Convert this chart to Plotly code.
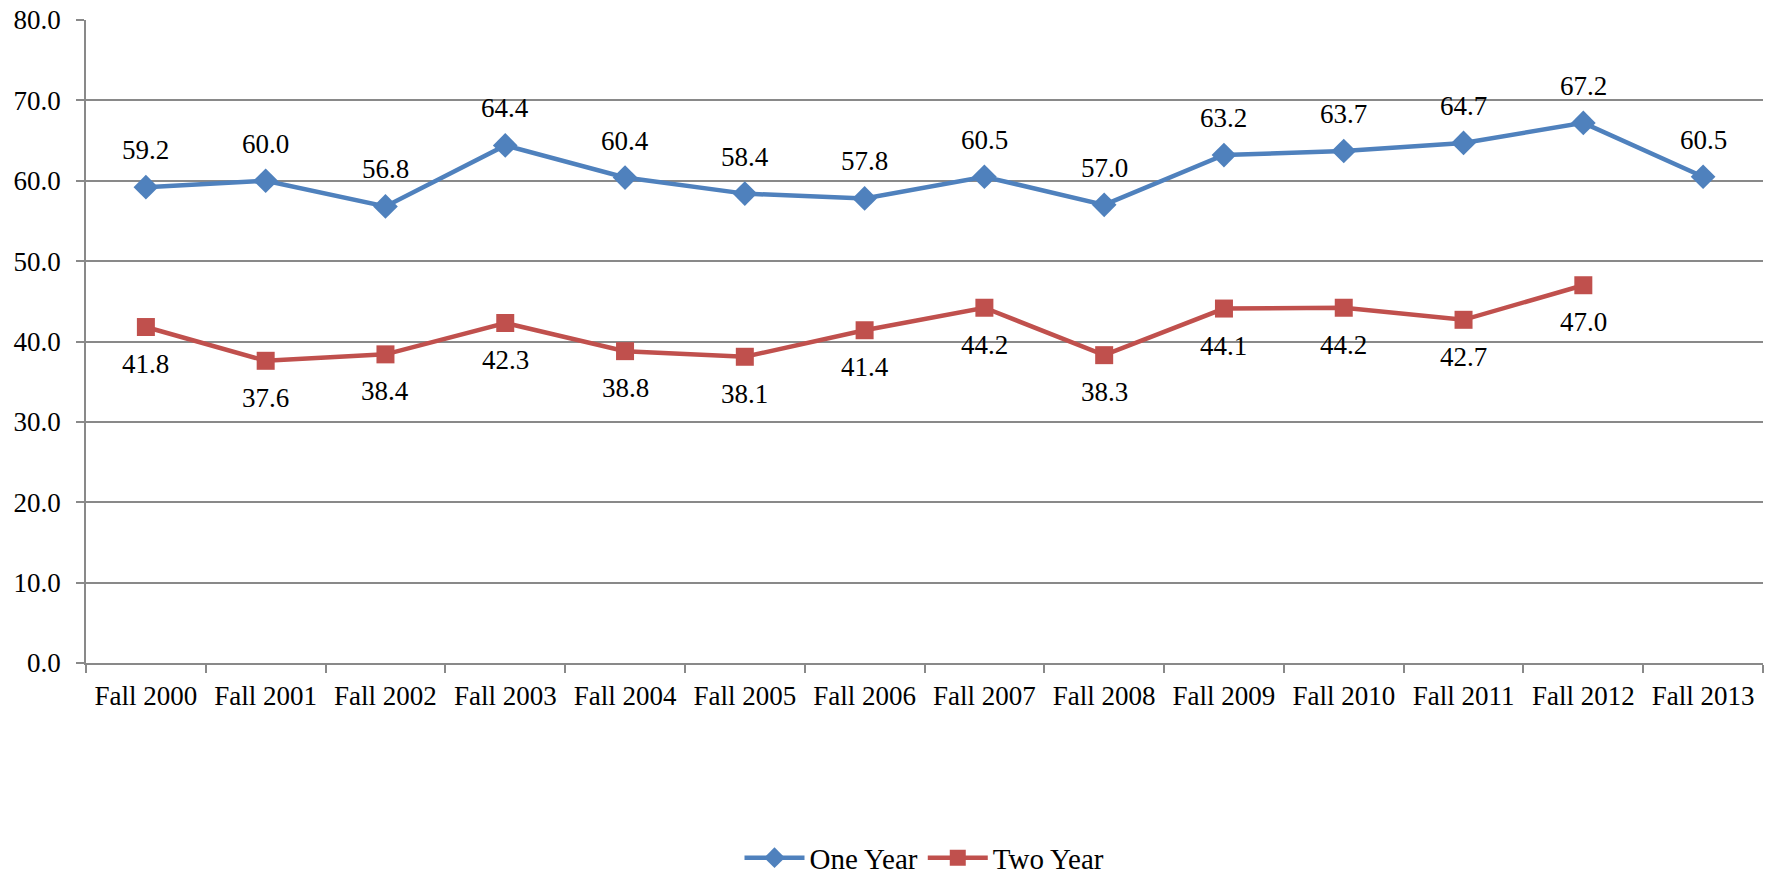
import plotly.graph_objects as go

categories = ["Fall 2000", "Fall 2001", "Fall 2002", "Fall 2003", "Fall 2004", "Fall 2005",
              "Fall 2006", "Fall 2007", "Fall 2008", "Fall 2009", "Fall 2010", "Fall 2011",
              "Fall 2012", "Fall 2013"]
one_year = [59.2, 60.0, 56.8, 64.4, 60.4, 58.4, 57.8, 60.5, 57.0, 63.2, 63.7, 64.7, 67.2, 60.5]
two_year = [41.8, 37.6, 38.4, 42.3, 38.8, 38.1, 41.4, 44.2, 38.3, 44.1, 44.2, 42.7, 47.0, None]
y_ticks = [0, 10, 20, 30, 40, 50, 60, 70, 80]

BLUE = "#4F81BD"
RED = "#C0504D"
GRID = "#898989"
FONT = "Liberation Serif, Times New Roman, serif"
FS = 27

fig = go.Figure()
fig.add_trace(go.Scatter(x=categories, y=one_year, name="One Year", mode="lines+markers",
                         line=dict(color=BLUE, width=4.5),
                         marker=dict(symbol="diamond", size=19, color=BLUE)))
fig.add_trace(go.Scatter(x=categories, y=two_year, name="Two Year", mode="lines+markers",
                         line=dict(color=RED, width=4.5),
                         marker=dict(symbol="square", size=18, color=RED)))

ann = []
for c, v in zip(categories, one_year):
    ann.append(dict(x=c, y=v, text=f"{v:.1f}", showarrow=False, yshift=37,
                    font=dict(family=FONT, size=FS, color="#000")))
for c, v in zip(categories, two_year):
    if v is None:
        continue
    ann.append(dict(x=c, y=v, text=f"{v:.1f}", showarrow=False, yshift=-37,
                    font=dict(family=FONT, size=FS, color="#000")))

fig.update_layout(
    width=1775, height=880,
    margin=dict(l=86, r=12, t=20, b=217, autoexpand=False),
    paper_bgcolor="white", plot_bgcolor="white",
    font=dict(family=FONT, size=FS, color="#000"),
    showlegend=True,
    legend=dict(orientation="h", x=0.5, xanchor="center", y=-0.303, yanchor="middle",
                font=dict(family=FONT, size=29), itemwidth=60),
    annotations=ann,
    xaxis=dict(type="category", showgrid=False, showline=True, linecolor=GRID, linewidth=1.5,
               ticks="outside", tickson="boundaries", ticklen=8, tickcolor=GRID, tickwidth=1.5,
               tickfont=dict(family=FONT, size=FS), range=[-0.5, 13.5], ticklabelstandoff=8,
               automargin=False),
    yaxis=dict(range=[0, 80], tickvals=y_ticks, ticktext=[f"{t:.1f}" for t in y_ticks],
               showgrid=True, gridcolor=GRID, gridwidth=1.5, showline=True, linecolor=GRID,
               linewidth=1.5, ticks="outside", ticklen=8, tickcolor=GRID, tickwidth=1.5,
               zeroline=False, tickfont=dict(family=FONT, size=FS), ticklabelstandoff=10,
               automargin=False),
)

fig.write_html("out.html", config={"displayModeBar": False},
               post_script="document.body.style.margin='0';")
